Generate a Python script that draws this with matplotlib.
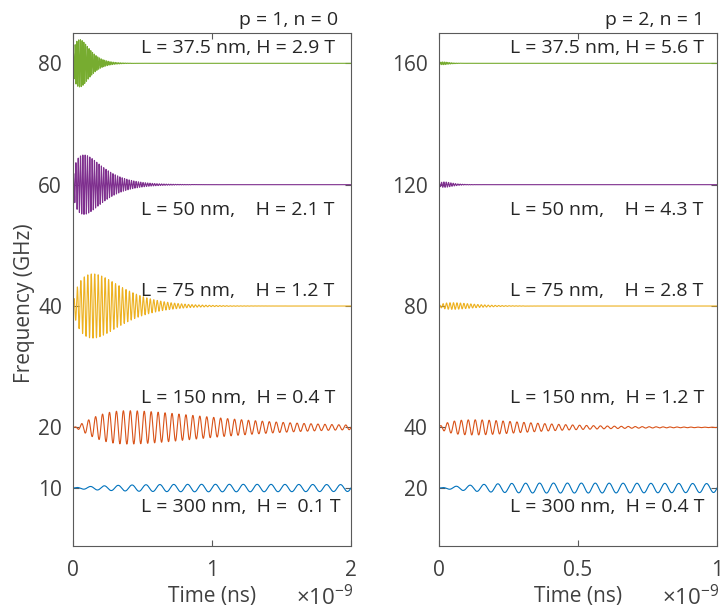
"""Ring-down of the uniform mode for five nanowire lengths, two mode families."""

import numpy as np
import matplotlib
matplotlib.use("Agg")
import matplotlib.pyplot as plt

plt.rcParams["font.family"] = ["Open Sans", "DejaVu Sans"]
plt.rcParams["mathtext.fontset"] = "custom"
plt.rcParams["mathtext.rm"] = "Open Sans"
plt.rcParams["axes.unicode_minus"] = True

# --- data ------------------------------------------------------------------
L_NM = ["300", "150", "75", "50", "37.5"]
COLORS = ["#0072BD", "#D95319", "#EDB120", "#7E2F8E", "#77AC30"]

# p = 1, n = 0
LEFT_FREQ = [10, 20, 40, 60, 80]                 # GHz (also the y offset)
LEFT_H = ["0.1", "0.4", "1.2", "2.1", "2.9"]     # T
LEFT_AMP = [0.62, 2.75, 5.3, 4.9, 3.9]           # envelope peak (GHz)
LEFT_TPEAK = [1.0, 0.39, 0.145, 0.08, 0.05]      # ns
LEFT_KRISE = [0.72, 1.5, 0.7, 0.5, 0.5]
LEFT_KDECAY = [0.3, 0.8, 1.0, 0.75, 1.0]

# p = 2, n = 1
RIGHT_FREQ = [20, 40, 80, 120, 160]
RIGHT_H = ["0.4", "1.2", "2.8", "4.3", "5.6"]
RIGHT_AMP = [1.65, 2.5, 1.1, 0.9, 0.45]
RIGHT_TPEAK = [0.4, 0.125, 0.05, 0.02, 0.015]
RIGHT_KRISE = [1.0, 0.75, 0.7, 0.7, 0.7]
RIGHT_KDECAY = [0.2, 0.76, 1.0, 1.0, 1.0]

# label text per trace (spacing as in the original)
LEFT_LABELS = ["L = 300 nm,  H =  0.1 T", "L = 150 nm,  H = 0.4 T",
               "L = 75 nm,    H = 1.2 T", "L = 50 nm,    H = 2.1 T",
               "L = 37.5 nm, H = 2.9 T"]
RIGHT_LABELS = ["L = 300 nm,  H = 0.4 T", "L = 150 nm,  H = 1.2 T",
                "L = 75 nm,    H = 2.8 T", "L = 50 nm,    H = 4.3 T",
                "L = 37.5 nm, H = 5.6 T"]
LABEL_Y = [0.0657, 0.278, 0.487, 0.645, 0.961]   # axes fraction, baseline

TEXT_C = "#262626"
TICK_C = "#404040"
AX_C = "#5a5a5a"


def envelope(t_ns, amp, tp, k_rise, k_decay):
    r = t_ns / tp
    k = np.where(r < 1, k_rise, k_decay)
    return amp * r ** k * np.exp(k * (1 - r))


def panel(ax, tmax_ns, freqs, amps, tps, krs, kds, labels, ylim, xticks,
          xticklabels, yticks, title, title_x, label_x):
    t_ns = np.linspace(0, tmax_ns, 60000)
    t_s = t_ns * 1e-9
    for f, a, tp, kr, kd, c in zip(freqs, amps, tps, krs, kds, COLORS):
        y = f + envelope(t_ns, a, tp, kr, kd) * np.sin(2 * np.pi * f * 1e9 * t_s)
        ax.plot(t_s, y, color=c, lw=0.8)
    for lab, yy in zip(labels, LABEL_Y):
        ax.text(label_x, yy, lab, transform=ax.transAxes, fontsize=14,
                color=TEXT_C, ha="left", va="baseline")
    ax.text(title_x, 1.0156, title, transform=ax.transAxes, fontsize=14,
            color=TEXT_C, ha="right", va="baseline")
    ax.set_xlim(0, tmax_ns * 1e-9)
    ax.set_ylim(*ylim)
    ax.set_xticks(xticks)
    ax.set_xticklabels(xticklabels)
    ax.set_yticks(yticks)
    ax.set_yticklabels([str(v) for v in yticks])
    ax.tick_params(direction="in", length=4, width=0.8, colors=AX_C,
                   labelcolor=TICK_C, labelsize=15, top=True, right=True)
    ax.tick_params(axis="x", pad=10)
    ax.tick_params(axis="y", pad=8)
    for s in ax.spines.values():
        s.set_color(AX_C)
        s.set_linewidth(0.8)
    ax.set_xlabel("Time (ns)", fontsize=15, color=TICK_C, labelpad=4)
    ax.text(1.008, -0.116, r"$\times10^{-9}$", transform=ax.transAxes,
            fontsize=16, color=TICK_C, ha="right", va="baseline")


fig = plt.figure(figsize=(7.22, 6.13), dpi=100)
ax1 = fig.add_axes([0.1011, 0.1098, 0.385, 0.8364])
ax2 = fig.add_axes([0.6076, 0.1098, 0.3855, 0.8364])

panel(ax1, 2.0, LEFT_FREQ, LEFT_AMP, LEFT_TPEAK, LEFT_KRISE, LEFT_KDECAY,
      LEFT_LABELS, (0.5, 85), [0, 1e-9, 2e-9], ["0", "1", "2"],
      [10, 20, 40, 60, 80], "p = 1, n = 0", 0.955, 0.245)
panel(ax2, 1.0, RIGHT_FREQ, RIGHT_AMP, RIGHT_TPEAK, RIGHT_KRISE, RIGHT_KDECAY,
      RIGHT_LABELS, (1, 170), [0, 0.5e-9, 1e-9], ["0", "0.5", "1"],
      [20, 40, 80, 120, 160], "p = 2, n = 1", 0.955, 0.258)

fig.text(25 / 722, 1 - 303 / 613, "Frequency (GHz)", rotation=90, fontsize=15,
         color=TICK_C, ha="center", va="center")

fig.savefig("out.png", dpi=100)
